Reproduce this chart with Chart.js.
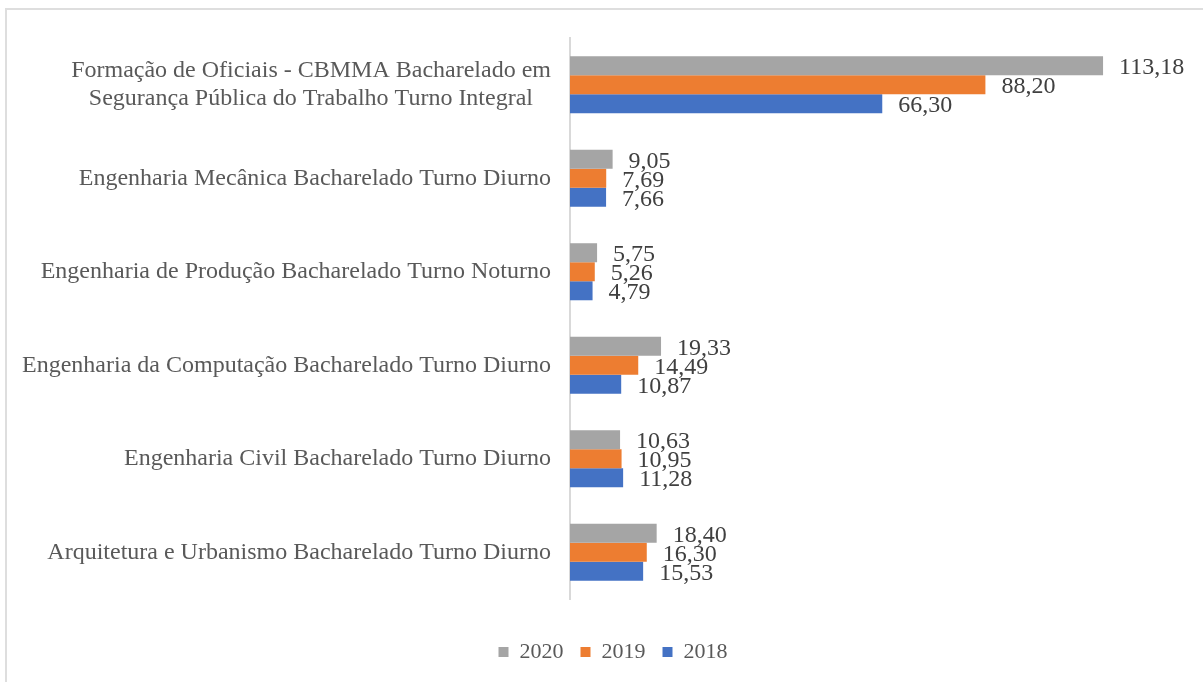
<!DOCTYPE html>
<html>
<head>
<meta charset="utf-8">
<script src="https://cdn.jsdelivr.net/npm/chart.js@4/dist/chart.umd.min.js"></script>
<style>
  html, body { margin: 0; padding: 0; background: #fff; }
  #wrap { position: relative; width: 1203px; height: 682px; overflow: hidden; }
  #frame { position: absolute; left: 5px; top: 8px; width: 1300px; height: 800px; border: 2px solid #dedede; box-sizing: border-box; }
  #c { position: absolute; left: 0; top: 0; }
</style>
</head>
<body>
<div id="wrap">
  <div id="frame"></div>
  <canvas id="c" width="1203" height="682"></canvas>
</div>
<script>
const categories = [
  ["Formação de Oficiais - CBMMA Bacharelado em", "Segurança Pública do Trabalho Turno Integral   "],
  "Engenharia Mecânica Bacharelado Turno Diurno",
  "Engenharia de Produção Bacharelado Turno Noturno",
  "Engenharia da Computação Bacharelado Turno Diurno",
  "Engenharia Civil Bacharelado Turno Diurno",
  "Arquitetura e Urbanismo Bacharelado Turno Diurno"
];
const seriesNames = ["2020", "2019", "2018"];
const values2020 = [113.18, 9.05, 5.75, 19.33, 10.63, 18.40];
const values2019 = [88.20, 7.69, 5.26, 14.49, 10.95, 16.30];
const values2018 = [66.30, 7.66, 4.79, 10.87, 11.28, 15.53];
const colors = ["#A5A5A5", "#ED7D31", "#4472C4"];

const FONT = "'Liberation Serif', 'Times New Roman', serif";

const valueLabels = {
  id: 'valueLabels',
  afterDatasetsDraw(chart) {
    const ctx = chart.ctx;
    ctx.save();
    ctx.font = "24px " + FONT;
    ctx.fillStyle = "#404040";
    ctx.textAlign = "left";
    ctx.textBaseline = "middle";
    chart.data.datasets.forEach((ds, i) => {
      const meta = chart.getDatasetMeta(i);
      meta.data.forEach((el, j) => {
        const v = ds.data[j];
        const txt = v.toFixed(2).replace('.', ',');
        ctx.fillText(txt, el.x + 16, el.y + 2);
      });
    });
    ctx.restore();
  }
};

new Chart(document.getElementById('c'), {
  type: 'bar',
  data: {
    labels: categories,
    datasets: [
      { label: seriesNames[0], data: values2020, backgroundColor: colors[0] },
      { label: seriesNames[1], data: values2019, backgroundColor: colors[1] },
      { label: seriesNames[2], data: values2018, backgroundColor: colors[2] }
    ]
  },
  options: {
    indexAxis: 'y',
    responsive: false,
    animation: false,
    devicePixelRatio: 1,
    layout: { padding: { top: 38, left: 10, right: -13, bottom: 9 } },
    datasets: { bar: { barPercentage: 1.0, categoryPercentage: 0.61 } },
    scales: {
      x: {
        display: true, min: 0, max: 134.4,
        grid: { display: false, drawTicks: false },
        border: { display: false },
        ticks: { display: false },
        afterFit(scale) { scale.height = 25; }
      },
      y: {
        grid: { display: false, drawTicks: false },
        border: { display: true, color: '#d9d9d9', width: 2 },
        ticks: { color: '#595959', font: { family: FONT, size: 24 }, padding: 19, autoSkip: false },
        afterFit(scale) { scale.width = 560; }
      }
    },
    plugins: {
      legend: {
        position: 'bottom',
        labels: { boxWidth: 10, boxHeight: 10, color: '#595959', font: { family: FONT, size: 22 }, padding: 17 }
      },
      tooltip: { enabled: false }
    }
  },
  plugins: [valueLabels]
});
</script>
</body>
</html>
